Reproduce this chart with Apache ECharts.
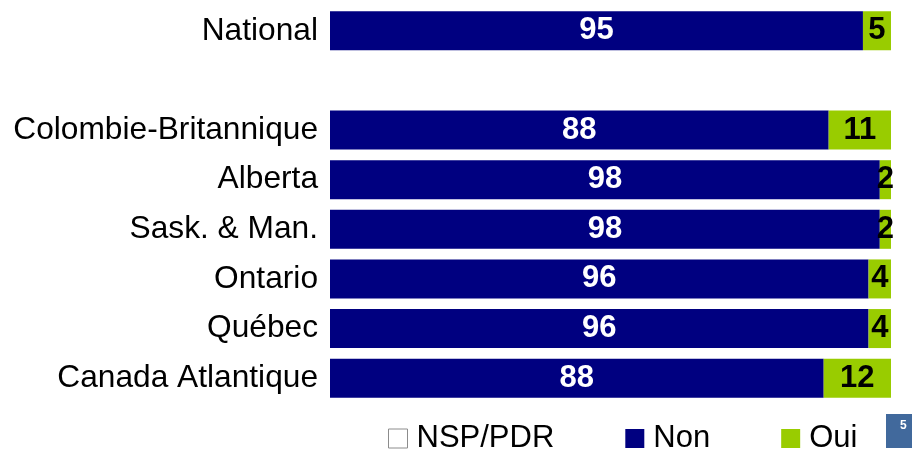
<!DOCTYPE html>
<html>
<head>
<meta charset="utf-8">
<script src="https://cdn.jsdelivr.net/npm/echarts@6/dist/echarts.min.js"></script>
<style>
html,body{margin:0;padding:0;background:#fff;}
#chart{width:924px;height:449px;}
</style>
</head>
<body>
<div id="chart"></div>
<script>
var categories = ['National', '', 'Colombie-Britannique', 'Alberta', 'Sask. & Man.', 'Ontario', 'Québec', 'Canada Atlantique'];
var nonValues = [95, null, 88, 98, 98, 96, 96, 88];
var ouiValues = [5, null, 11, 2, 2, 4, 4, 12];
var nspValues = [0, null, 0, 0, 0, 0, 0, 0];
var pageNumber = '5';

function share(arr, i) {
  if (arr[i] == null) return null;
  var t = (nonValues[i] || 0) + (ouiValues[i] || 0) + (nspValues[i] || 0);
  return arr[i] / t * 100;
}
function shares(arr) { return arr.map(function (v, i) { return share(arr, i); }); }

var FONT = '"Liberation Sans", Arial, sans-serif';
var chart = echarts.init(document.getElementById('chart'), null, {renderer: 'canvas'});
chart.setOption({
  animation: false,
  grid: {left: 330, right: 33, top: 6, bottom: 46, containLabel: false},
  xAxis: {type: 'value', min: 0, max: 100, show: false},
  yAxis: {
    type: 'category', data: categories, inverse: true,
    axisLine: {show: false}, axisTick: {show: false}, splitLine: {show: false},
    axisLabel: {color: '#000', fontSize: 31.7, fontFamily: FONT, margin: 12}
  },
  legend: {
    data: [
      {name: 'NSP/PDR', icon: 'rect', itemStyle: {color: '#ffffff', borderColor: '#8c8c8c', borderWidth: 1}},
      {name: 'Non', icon: 'rect'},
      {name: 'Oui', icon: 'rect'}
    ],
    left: 383, top: 418,
    itemWidth: 19, itemHeight: 19, itemGap: 71,
    textStyle: {color: '#000', fontSize: 31, fontFamily: FONT, padding: [0, 0, 0, 4]}
  },
  series: [
    {
      name: 'Non', type: 'bar', stack: 's', barWidth: 39,
      data: shares(nonValues),
      itemStyle: {color: '#000080'},
      label: {show: true, position: 'inside', color: '#fff', fontWeight: 'bold', fontSize: 31, fontFamily: FONT,
        formatter: function (p) { return nonValues[p.dataIndex]; }}
    },
    {
      name: 'Oui', type: 'bar', stack: 's', barWidth: 39,
      data: shares(ouiValues),
      itemStyle: {color: '#99cc00'},
      label: {show: true, position: 'inside', color: '#000', fontWeight: 'bold', fontSize: 31, fontFamily: FONT,
        formatter: function (p) { return ouiValues[p.dataIndex]; }}
    },
    {
      name: 'NSP/PDR', type: 'bar', stack: 's', barWidth: 39,
      data: shares(nspValues),
      itemStyle: {color: '#ffffff'},
      label: {show: false}
    }
  ],
  graphic: [
    {type: 'rect', left: 886, top: 414, shape: {width: 26, height: 34}, style: {fill: '#41699c'}},
    {type: 'text', left: 900, top: 420, style: {text: pageNumber, fill: '#fff', font: 'bold 12px ' + FONT}}
  ]
});
</script>
</body>
</html>
